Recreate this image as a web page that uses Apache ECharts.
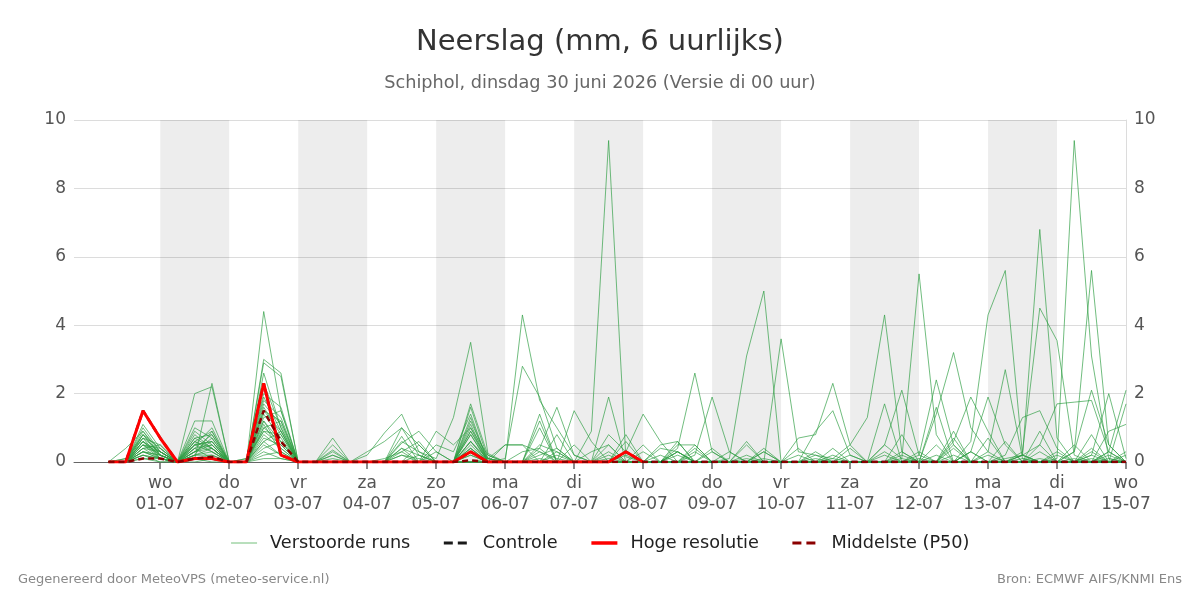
<!DOCTYPE html>
<html>
<head>
<meta charset="utf-8">
<title>Neerslag pluim</title>
<script src="https://cdn.jsdelivr.net/npm/echarts@6/dist/echarts.min.js"></script>
<style>
  html, body { margin: 0; padding: 0; background: #fff; }
  #chart { width: 1200px; height: 600px; }
</style>
</head>
<body>
<div id="chart"></div>
<script>
// tijdas: 6-uurlijkse slots, eerste slot op de as = 29-06 18:00 UTC
var startTime = Date.UTC(2026, 5, 29, 18);
var stepMs = 6 * 3600 * 1000;
var slotCount = 62;
var leadSlots = 2; // lege slots voor de eerste waarde (30-06 06:00)

var dayNames = ['zo', 'ma', 'di', 'wo', 'do', 'vr', 'za'];
var shadedSpans = [
  ['01-07', '02-07'], ['03-07', '04-07'], ['05-07', '06-07'], ['07-07', '08-07'],
  ['09-07', '10-07'], ['11-07', '12-07'], ['13-07', '14-07']
];
var yTicks = [0, 2, 4, 6, 8, 10];

// verstoorde runs (mm per 6 uur), 60 waarden vanaf 30-06 06:00
var members = [
  [0,0,0.9,0.3, 0,0.5,0.6,0, 0,4.4,1.5,0, 0,0.2,0,0, 0,0.4,0.2,0, 0,0.9,0.1,0, 0,0.3,0.1,0, 0,0,0,0, 0,0.4,2.6,0.3, 0,0.1,0,0, 0,0,0.1,0, 0,0.2,0,0, 0,0,0.3,0, 0,0,0.1,0, 0,0.2,0,0],
  [0,0,0.6,0.2, 0,0.3,0.4,0, 0,3.0,2.6,0, 0,0,0,0, 0,0.2,0.1,0, 0,0.6,0.1,0, 0,0.5,0.3,0, 0.9,9.4,0.15,0, 0,0.2,0,0, 0,0,0.3,0, 0,0.2,0,0, 0,0,0,0.1, 0,0.4,0,0, 0,0.2,0,0, 0,0,0.3,0],
  [0,0.1,0.8,0.4, 0,0.2,0.9,0, 0,2.9,2.5,0, 0,0.3,0,0, 0,0.6,0.3,0.1, 1.3,3.5,0.25,0, 0,0.2,0.4,0, 0,0.1,0,0, 0,0,0.3,0, 0,0,0,0, 0,0.3,0,0, 0,0.5,0.1,0, 0,0,0,0.2, 0,0,0.3,0, 0,0.1,0,0],
  [0,0,0.5,0.1, 0,2.0,2.2,0, 0,1.6,0.8,0, 0,0,0,0, 0.1,0.3,0,0, 0,0.4,0,0, 4.3,1.8,1.0,0.2, 0,0.3,0,0, 0.2,0,0,0, 0,0.2,0,0, 0,0,0,0, 0,0,0.3,0, 0,0.2,0,0, 0,0,0,0.2, 0,0,0,0],
  [0,0,0.7,0.3, 0,0.1,2.3,0, 0.1,2.3,1.0,0, 0,0.1,0,0, 0,0,0.2,0, 0,0.3,0,0.1, 2.8,1.9,0.4,0, 0,0,0.3,0, 0,0.3,0,0, 0,0,0.1,0, 0.2,0,0,0, 0,0,0,0, 0.5,0,0,0, 0,0,0,0, 0,0.3,0,0],
  [0,0,1.1,0.4, 0,0.6,0.3,0, 0,2.0,1.6,0, 0,0.7,0,0, 0,0.2,0,0, 0,1.2,0.1,0, 0,0,0.2,0, 0,0,0,0, 0,0,0,0, 0.1,3.1,5.0,0, 0,0,0.2,0, 0,0,0,0, 0,0,0.3,0, 0,0.1,0,0, 0,0,0.2,0],
  [0,0.4,0.9,0.2, 0,0.9,0.5,0, 0,1.8,1.3,0, 0,0,0,0.3, 0.6,1.0,0.5,0, 0,0.8,0,0, 0,0.1,0,0, 0,0,0.2,0, 0,0,0,0, 0,0,0,3.6, 0.3,0.2,0.1,0.5, 1.3,4.3,0.3,0, 0,0,0,0, 0,0.2,0,0, 0,0,0,0.3],
  [0,0,0.4,0.5, 0,1.2,1.2,0, 0,1.5,0.9,0, 0,0,0,0, 0,0.3,0.6,0, 0,1.0,0.2,0, 0.3,0.4,0,0, 0,0.2,0,0, 0,0,0.5,0, 0,0,0,0, 0,0,0,0.2, 0,0,0.1,5.5, 0.8,0,0,0, 0,0,0,0, 0,0,0,0.2],
  [0,0,0.3,0.1, 0,0.4,0.8,0, 0,1.3,1.5,0, 0,0,0,0, 0,0.55,0.9,0.3, 0,0.6,0,0, 0,0,0.3,0, 0,0,0,0.3, 0,0,0,0.4, 0,0,0,0, 0,0,0.4,0, 0,0,0,0, 1.4,3.2,1.0,0.3, 0,0,0,0, 0,0,0,0],
  [0,0,0.2,0, 0,0.7,0.4,0, 0,1.2,0.6,0, 0,0,0,0, 0,0,0,0.5, 0.3,1.4,0,0, 0,0,0,0, 0,0.5,0,0, 0,0.3,0,0, 0,0,0,0, 0,0.1,0,0, 0,0,0,0, 0,0,0.6,4.3, 5.6,0.2,0,0, 0.1,0,0,0],
  [0,0,0.6,0.3, 0,0.5,0.3,0, 0,1.0,1.2,0, 0,0.5,0,0, 0,0,0,0, 0,1.6,0.1,0, 0,1.2,0,0, 0,0,0,0, 0,0,0,0, 0.3,0,0,0, 0,0,0,0, 0,0,0.2,0, 0,0,0,0, 0.1,0.2,6.8,0.7, 0,0,0.1,0],
  [0,0,0.8,0.2, 0,0.3,0.5,0, 0.1,0.9,0.5,0, 0,0,0,0, 0,0.4,0,0, 0,0.5,0,0, 0,0,0,0, 0,0.8,0.3,0, 0,0,0,0, 0,0,0,0, 0,0,0,0, 0,0,0,0.3, 0,0,0,0, 0,0.3,4.5,3.55, 0.2,0,0,0],
  [0,0,0.5,0.2, 0,1.0,0.7,0, 0,2.6,1.0,0, 0,0,0,0, 0,0.75,0,0, 0,0.4,0,0, 0,0,0,0, 0,0,0,0, 0,0.3,0,0, 0,0,0,0, 0,0,0,0, 0,0,0,0, 0,0,0,0, 0,0,0,0.1, 9.4,3.1,0.1,0],
  [0,0,0.4,0.3, 0,0.2,0.2,0, 0,0.8,0.4,0, 0,0,0,0, 0,0,0,0, 0,0.9,0,0, 0,0,0.8,0, 0,0,0.6,0, 0,0,0,0, 0,0,0,0, 0,0,0,0, 0,0,0,0, 0.2,0,0,0, 0,0,0,0, 0.3,5.6,0.5,0],
  [0,0.1,0.7,0.1, 0,0.6,0.9,0, 0,1.4,0.7,0, 0,0,0,0.2, 0.85,1.4,0.3,0, 0,1.3,0,0, 0,0,0,0, 0,0,0,0, 0,0.5,0.5,0, 0,0,0,0, 0.7,0.8,2.3,0.5, 0,0,0,0.2, 2.4,0.5,0,0, 0,0,0,0, 0,0,0,0],
  [0,0,0.3,0.2, 0,0.4,0.1,0, 0,0.6,0.9,0, 0,0,0,0, 0,0,0.5,0, 0,1.7,0.2,0, 0,0,0,0, 0,0,0,0, 0.4,0.3,0,0, 0,0,0,0, 0,0.9,1.5,0.2, 0,0,0,0, 0,0,0,0.3, 2.7,0.1,0,0, 0,0,0,0],
  [0,0,0.2,0.1, 0,0.3,0.6,0, 0,1.1,0.3,0, 0,0,0,0, 0,0,0,0, 0,0.2,0,0, 0,0,0,0, 0,0,0.8,0, 0,0,0,0, 0,0,0,0, 0,0,0,0, 0,0.5,2.1,0.2, 0,0,0,0, 0,0,0.5,0, 0,0,0.3,2.1],
  [0,0,0.5,0.4, 0,0.1,0.2,0, 0,0.5,0.2,0, 0,0,0,0, 0,0,0,0, 0,0.4,0,0, 0,0,0,0, 0,0,0,0, 0,0,0.2,1.9, 0.3,0,0,0, 0,0,0,0, 0,0,0,0, 0,0,0,0, 0,0,0,0.3, 0,0.2,2.0,0.1],
  [0,0,1.0,0.3, 0,0.5,1.0,0, 0,1.7,1.1,0, 0,0.35,0,0, 0,0,0,0.9, 0.5,1.0,0,0, 0,0,0,0, 0,0,0.3,1.4, 0.6,0,0,0, 0,0,0,0, 0,0,0,0, 0,0,0,0, 0,0,0,0, 0,0.2,0.5,1.7, 1.75,1.8,0.3,0],
  [0,0,0.6,0.1, 0,0.8,0.4,0, 0,0.7,0.5,0, 0,0,0,0, 0,0,0,0, 0,0,0.1,0.5, 0.5,0.3,0,0, 0,1.9,0,0, 0,0,0,0, 0,0,0,0, 0,0,0,0, 0,0,0,0, 0,0,0.3,1.9, 0.5,0,0,0, 0,0,0,0],
  [0,0,0.3,0.2, 0,0.2,0.3,0, 0,0.4,0.6,0, 0,0,0,0, 0,0,0,0, 0,0.2,0,0, 0,0,0,1.5, 0.6,0,0,0, 0,0,0,0, 0,0.5,0,0, 0,0,0,0, 0,0,0,0, 0,0,0,0, 0.2,1.3,1.5,0.4, 0,0,0,0],
  [0,0,0.1,0, 0,0.1,0.1,0, 0,0.3,0.1,0, 0,0,0,0, 0,1.0,0.2,0, 0,0,0,0, 0,0,0,0, 0,0,0,0, 0,0.6,0,0, 0,0,0,0, 0,0,0,0, 0,0,0,0, 0,0.7,0,0, 0,0,0,0, 0.3,2.1,0.5,0],
  [0,0,0.4,0.1, 0,0.4,0.5,0, 0,0.9,0.8,0, 0,0,0,0, 0,0,0,0, 0,0.6,0,0, 0,0.4,1.6,0.2, 0,0,0,0, 0,0,0,0, 0,0,0.4,0, 0,0,0,0, 0,0,0,0, 0,0.6,1.9,0.9, 0,0,0,0, 0,0,0,0],
  [0,0,0.7,0.5, 0,0.3,0.7,0, 0,1.2,0.4,0, 0,0.2,0,0, 0,0,0,0, 0,0.8,0,0.5, 0.5,0,0,0, 0,0,0,0, 0.5,0.6,0,0, 0,0,0,0, 0,0,0,0, 0,1.7,0,0, 0,0,0,0, 0,0,0.9,0, 0,0,0,0],
  [0,0,0.2,0.1, 0,0,0.1,0, 0,0.2,0.3,0, 0,0,0,0, 0,0,0,0, 0,0,0,0, 0,1.4,0,0, 0,0,0,0, 0,0,0.4,0, 0,0.6,0,0, 0,0,0,0.4, 0,0,0,0, 0,0.9,0,0, 0,0,0,0, 0,0,0.9,1.1],
  [0,0,0.5,0.3, 0,0.6,0.4,0, 0,1.0,0.6,0, 0,0,0,0, 0,0,0,0, 0,0,0,0, 0,1.0,0,0, 0.3,0.5,0,0, 0,0,0,0, 0,0,0,0, 0.4,0,0,0, 0,0,0.8,0, 0,0,0,0.7, 0,0,0,0, 0.5,0,0,0],
  [0,0,0.8,0.2, 0,0.5,0.6,0, 0,1.5,1.2,0, 0,0,0,0, 0,0,0,0.3, 0,0,0,0, 0,0,0,0.5, 0,0,0,0, 0,0,0,0, 0,0,0.3,0, 0,0,0,0, 0,0.3,0,0, 1.6,0,0,0, 0,0,0,0, 0,0,0,1.7],
  [0,0,0.3,0.1, 0,0.2,0.4,0, 0,0.6,0.2,0, 0,0,0,0, 0,0,0,0, 0,0,0,0, 0,0,0,0, 0,0,0,0.5, 0,0,0,0, 0,0,0,0, 0,0,0,0, 0,0,0,0, 0,0,0,0, 0.6,0,0,0, 0,0.8,0,0],
  [0,0,0.6,0.2, 0,0.7,0.8,0, 0,1.9,0.9,0, 0,0,0,0, 0,0,0,0, 0,1.1,0,0, 0,0,0,0, 0,0,0,0, 0,0,0,0, 0,0,0,0, 0,0,0,0, 0,0,0,0, 0,0.5,0,0, 0,0,0,0, 0,0,0,0],
  [0,0,0.1,0.1, 0,0.1,0,0, 0,0.1,0.1,0, 0,0,0,0, 0,0,0,0, 0,0,0,0, 0,0,0,0, 0,0,0,0, 0,0,0,0.3, 0,0,0,0, 0,0,0,0, 0,0,0,0, 0,0,0,0, 0,0,0,0, 0,0.4,0,0]
];

// controlerun: in de pluim valt deze samen met de hoge resolutie
var control = [0,0,1.5,0.7, 0,0.1,0.1,0, 0,2.3,0.2,0, 0,0,0,0, 0,0,0,0, 0,0.3,0,0, 0,0,0,0, 0,0,0.3,0, 0,0,0,0, 0,0,0,0, 0,0,0,0, 0,0,0,0, 0,0,0,0, 0,0,0,0, 0,0,0,0];
// hoge resolutie loopt tot 08-07 00:00
var hires = [0,0,1.5,0.7, 0,0.1,0.1,0, 0,2.3,0.2,0, 0,0,0,0, 0,0,0,0, 0,0.3,0,0, 0,0,0,0, 0,0,0.3,0];
var median = [0,0,0.1,0.1, 0,0.1,0.15,0, 0,1.5,0.6,0, 0,0,0,0, 0,0,0,0, 0,0.05,0,0, 0,0,0,0, 0,0,0,0, 0,0,0,0, 0,0,0,0, 0,0,0,0, 0,0,0,0, 0,0,0,0, 0,0,0,0, 0,0,0,0];

function pad(n) { return (n < 10 ? '0' : '') + n; }

var slotDates = [];
var categories = [];
for (var k = 0; k < slotCount; k++) {
  var d = new Date(startTime + k * stepMs);
  slotDates.push(d);
  categories.push(pad(d.getUTCDate()) + '-' + pad(d.getUTCMonth() + 1) + ' ' + pad(d.getUTCHours()));
}

// alleen middernacht na het begin van de reeks krijgt een tick
function isMidnight(index) {
  return index >= leadSlots && slotDates[index].getUTCHours() === 0;
}

function toSeriesData(values) {
  var out = [];
  for (var k = 0; k < leadSlots; k++) out.push(null);
  return out.concat(values);
}

var green = 'rgba(46,158,66,0.68)';
var series = [];

members.forEach(function (m, idx) {
  var s = {
    name: 'Verstoorde runs',
    type: 'line',
    data: toSeriesData(m),
    symbol: 'none',
    silent: true,
    lineStyle: { width: 1, color: green },
    itemStyle: { color: 'rgba(90,180,100,0.85)' },
    emphasis: { disabled: true },
    z: 2
  };
  if (idx === 0) {
    s.markArea = {
      silent: true,
      itemStyle: { color: 'rgba(0,0,0,0.072)' },
      data: shadedSpans.map(function (sp) {
        return [{ xAxis: sp[0] + ' 00' }, { xAxis: sp[1] + ' 00' }];
      })
    };
  }
  series.push(s);
});

series.push({
  name: 'Controle',
  type: 'line',
  data: toSeriesData(control),
  symbol: 'none',
  silent: true,
  lineStyle: { width: 2.5, color: '#1a1a1a', type: [6, 4] },
  itemStyle: { color: '#1a1a1a' },
  emphasis: { disabled: true },
  z: 3
});
series.push({
  name: 'Hoge resolutie',
  type: 'line',
  data: toSeriesData(hires),
  symbol: 'none',
  silent: true,
  lineStyle: { width: 3, color: '#ff0000' },
  itemStyle: { color: '#ff0000' },
  emphasis: { disabled: true },
  z: 4
});
series.push({
  name: 'Middelste (P50)',
  type: 'line',
  data: toSeriesData(median),
  symbol: 'none',
  silent: true,
  lineStyle: { width: 2.5, color: '#8b0000', type: [6, 4] },
  itemStyle: { color: '#8b0000' },
  emphasis: { disabled: true },
  z: 5
});

var chart = echarts.init(document.getElementById('chart'), null, { renderer: 'canvas' });

var axisLabelStyle = { color: '#555', fontSize: 17, fontFamily: 'DejaVu Sans' };

chart.setOption({
  animation: false,
  backgroundColor: '#ffffff',
  textStyle: { fontFamily: 'DejaVu Sans' },
  title: [{
    text: 'Neerslag (mm, 6 uurlijks)',
    left: 'center',
    top: 28,
    padding: 0,
    textStyle: { fontSize: 29, fontWeight: 'normal', color: '#333', fontFamily: 'DejaVu Sans' }
  }, {
    text: 'Schiphol, dinsdag 30 juni 2026 (Versie di 00 uur)',
    left: 'center',
    top: 74,
    padding: 0,
    textStyle: { fontSize: 17.7, fontWeight: 'normal', color: '#666', fontFamily: 'DejaVu Sans' }
  }],
  legend: {
    data: [
      { name: 'Verstoorde runs', lineStyle: { width: 1, color: 'rgba(90,180,100,0.85)' } },
      { name: 'Controle', lineStyle: { width: 3, type: [9, 5] } },
      { name: 'Hoge resolutie', lineStyle: { width: 3.5 } },
      { name: 'Middelste (P50)', lineStyle: { width: 3, type: [9, 5] } }
    ],
    left: 'center',
    top: 529,
    itemWidth: 26,
    itemHeight: 20,
    itemGap: 32,
    selectedMode: false,
    itemStyle: { opacity: 0 },
    textStyle: { fontSize: 17.7, color: '#222', padding: [0, 0, 0, 8], fontFamily: 'DejaVu Sans' }
  },
  grid: { left: 74, right: 74, top: 120, bottom: 138 },
  xAxis: {
    type: 'category',
    data: categories,
    boundaryGap: false,
    axisLine: { show: true, lineStyle: { color: '#666', width: 1 } },
    axisTick: { show: true, length: 7, interval: function (i) { return isMidnight(i); }, lineStyle: { color: '#666', width: 1.5 } },
    axisLabel: {
      interval: function (i) { return isMidnight(i); },
      color: '#555',
      fontSize: 17,
      lineHeight: 21,
      margin: 11,
      formatter: function (value, index) {
        var d = slotDates[index];
        return dayNames[d.getUTCDay()] + '\n' + value.slice(0, 5);
      }
    },
    splitLine: { show: false }
  },
  yAxis: [{
    type: 'value',
    position: 'left',
    min: yTicks[0],
    max: yTicks[yTicks.length - 1],
    interval: yTicks[1] - yTicks[0],
    axisLine: { show: false },
    axisTick: { show: false },
    axisLabel: Object.assign({ margin: 8 }, axisLabelStyle),
    splitLine: { lineStyle: { color: '#dcdcdc', width: 1 } }
  }, {
    type: 'value',
    position: 'right',
    min: yTicks[0],
    max: yTicks[yTicks.length - 1],
    interval: yTicks[1] - yTicks[0],
    axisLine: { show: true, lineStyle: { color: '#dcdcdc' } },
    axisTick: { show: false },
    axisLabel: Object.assign({ margin: 8 }, axisLabelStyle),
    splitLine: { show: false }
  }],
  graphic: [{
    type: 'text',
    left: 18,
    top: 573,
    style: { text: 'Gegenereerd door MeteoVPS (meteo-service.nl)', fill: '#888', font: '13px "DejaVu Sans"' }
  }, {
    type: 'text',
    right: 18,
    top: 573,
    style: { text: 'Bron: ECMWF AIFS/KNMI Ens', fill: '#888', font: '13px "DejaVu Sans"' }
  }],
  series: series
});
</script>
</body>
</html>
